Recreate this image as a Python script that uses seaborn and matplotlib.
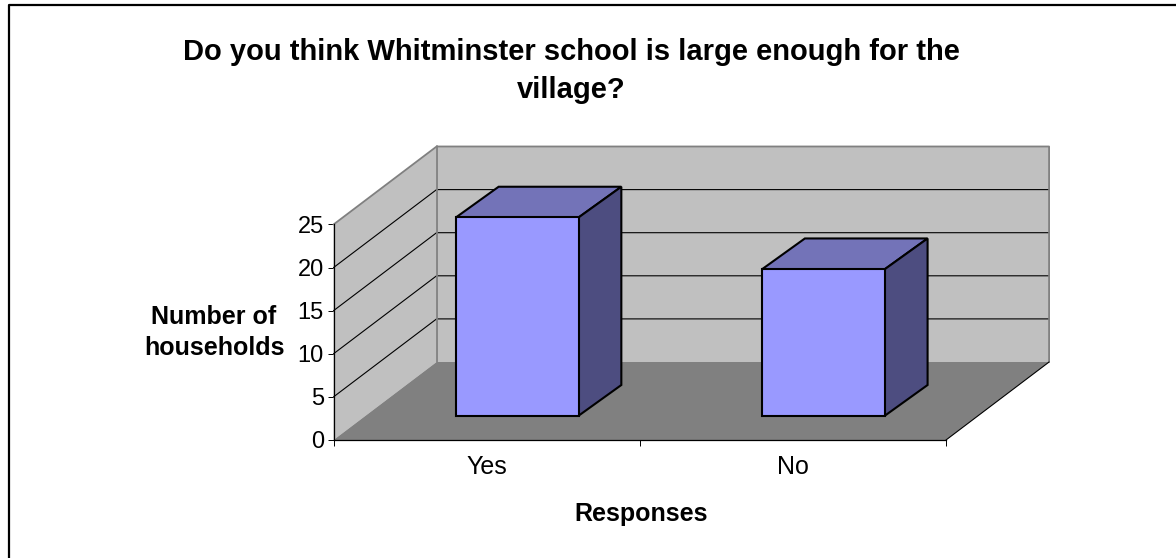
import matplotlib
matplotlib.use("Agg")
import matplotlib.pyplot as plt
from matplotlib.lines import Line2D
from matplotlib.patches import Polygon
import pandas as pd
import seaborn as sns

responses = ["Yes", "No"]
households = [23, 17]
y_ticks = [0, 5, 10, 15, 20, 25]

title = "Do you think Whitminster school is large enough for the\nvillage?"
xlabel = "Responses"
ylabel = "Number of\nhouseholds"

W, H = 1176, 558
FRONT = "#9999ff"
TOP = "#7373b8"
SIDE = "#4d4d80"
WALL = "#c0c0c0"
FLOOR = "#808080"
EDGE = "#808080"

sns.set_theme(style="white")
plt.rcParams["font.family"] = ["Liberation Sans", "DejaVu Sans"]

fig = plt.figure(figsize=(W / 100, H / 100), dpi=100)
ax = fig.add_axes([333.5 / W, 1 - 440 / H, (946 - 333.5) / W, (440 - 224.5) / H])
ax.set_facecolor("none")
ax.set_xlim(-0.5, 1.5)
ax.set_ylim(0, 25)

# oblique depth of the box, in data units
depth_x = 103 / 306
depth_y = 78 / (215.5 / 25)
# bars sit part way into the box
bar_dx = 30.6 / 306
bar_dy = 24.3 / (215.5 / 25)
bar_depth_x = 42.7 / 306
bar_depth_y = 30.7 / (215.5 / 25)
bar_w = 122.6 / 306


def poly(pts, fc, ec="none", lw=0, z=1):
    ax.add_patch(Polygon(pts, closed=True, fc=fc, ec=ec, lw=lw, zorder=z,
                         clip_on=False, joinstyle="miter"))


def seg(xs, ys, c="black", lw=0.8, z=2):
    ax.add_line(Line2D(xs, ys, color=c, lw=lw, zorder=z, clip_on=False))


# walls and floor
poly([(-0.5, 0), (-0.5 + depth_x, depth_y), (-0.5 + depth_x, 25 + depth_y), (-0.5, 25)], WALL)
poly([(-0.5 + depth_x, depth_y), (1.5 + depth_x, depth_y), (1.5 + depth_x, 25 + depth_y),
      (-0.5 + depth_x, 25 + depth_y)], WALL)
poly([(-0.5, 0), (1.5, 0), (1.5 + depth_x, depth_y), (-0.5 + depth_x, depth_y)], FLOOR)

for v in y_ticks[1:-1]:
    seg([-0.5, -0.5 + depth_x, 1.5 + depth_x], [v, v + depth_y, v + depth_y])
v = y_ticks[-1]
seg([-0.5, -0.5 + depth_x, 1.5 + depth_x, 1.5 + depth_x],
    [v, v + depth_y, v + depth_y, depth_y], c=EDGE, lw=1.3)
seg([-0.5 + depth_x, -0.5 + depth_x], [depth_y, v + depth_y], c=EDGE, lw=1.3)
seg([1.5, 1.5 + depth_x], [0, depth_y])

# front faces come from seaborn, moved into the box
df = pd.DataFrame({"response": responses, "households": households})
sns.barplot(data=df, x="response", y="households", order=responses, color=FRONT, saturation=1,
            width=bar_w, bottom=bar_dy, edgecolor="black", linewidth=1.5, ax=ax, zorder=4)
ax.set_xlim(-0.5, 1.5)
ax.set_ylim(0, 25)
for p in ax.patches:
    if p.get_zorder() == 4:
        p.set_x(p.get_x() + bar_dx)
        p.set_clip_on(False)

for i, val in enumerate(households):
    x0 = i - bar_w / 2 + bar_dx
    x1 = i + bar_w / 2 + bar_dx
    y0 = bar_dy
    y1 = bar_dy + val
    poly([(x0, y1), (x1, y1), (x1 + bar_depth_x, y1 + bar_depth_y), (x0 + bar_depth_x, y1 + bar_depth_y)],
         TOP, "black", 1.5, 3)
    poly([(x1, y0), (x1 + bar_depth_x, y0 + bar_depth_y), (x1 + bar_depth_x, y1 + bar_depth_y), (x1, y1)],
         SIDE, "black", 1.5, 3)

# axes
sns.despine(ax=ax, top=True, right=True, left=False, bottom=False)
for s in ["left", "bottom"]:
    ax.spines[s].set_linewidth(0.9)
    ax.spines[s].set_color("black")
    ax.spines[s].set_zorder(5)
ax.set_yticks(y_ticks)
ax.set_xticks([-0.5, 0.5, 1.5])
ax.set_xticklabels([])
ax.set_xticks([0, 1], labels=responses, minor=True)
ax.tick_params(axis="x", which="major", length=4, width=0.7, color="black", bottom=True)
ax.tick_params(axis="x", which="minor", length=0, pad=11, labelsize=18, labelcolor="black")
ax.tick_params(axis="y", length=4, width=0.7, color="black", left=True, pad=3, labelsize=17,
               labelcolor="black")
ax.set_xlabel("")
ax.set_ylabel("")

fig.text(214 / W, 1 - 332.5 / H, ylabel, ha="center", va="center", fontsize=18, fontweight="bold",
         color="black", linespacing=1.4)
fig.text(641 / W, 1 - 514 / H, xlabel, ha="center", va="center", fontsize=18, fontweight="bold",
         color="black")
fig.text(571 / W, 1 - 71 / H, title, ha="center", va="center", fontsize=21, fontweight="bold",
         color="black", linespacing=1.43)

# chart frame
fig.add_artist(Line2D([8.5 / W, 8.5 / W, 1], [0, 1 - 5 / H, 1 - 5 / H], color="black", lw=1.6))

fig.savefig("out.png", dpi=100)
